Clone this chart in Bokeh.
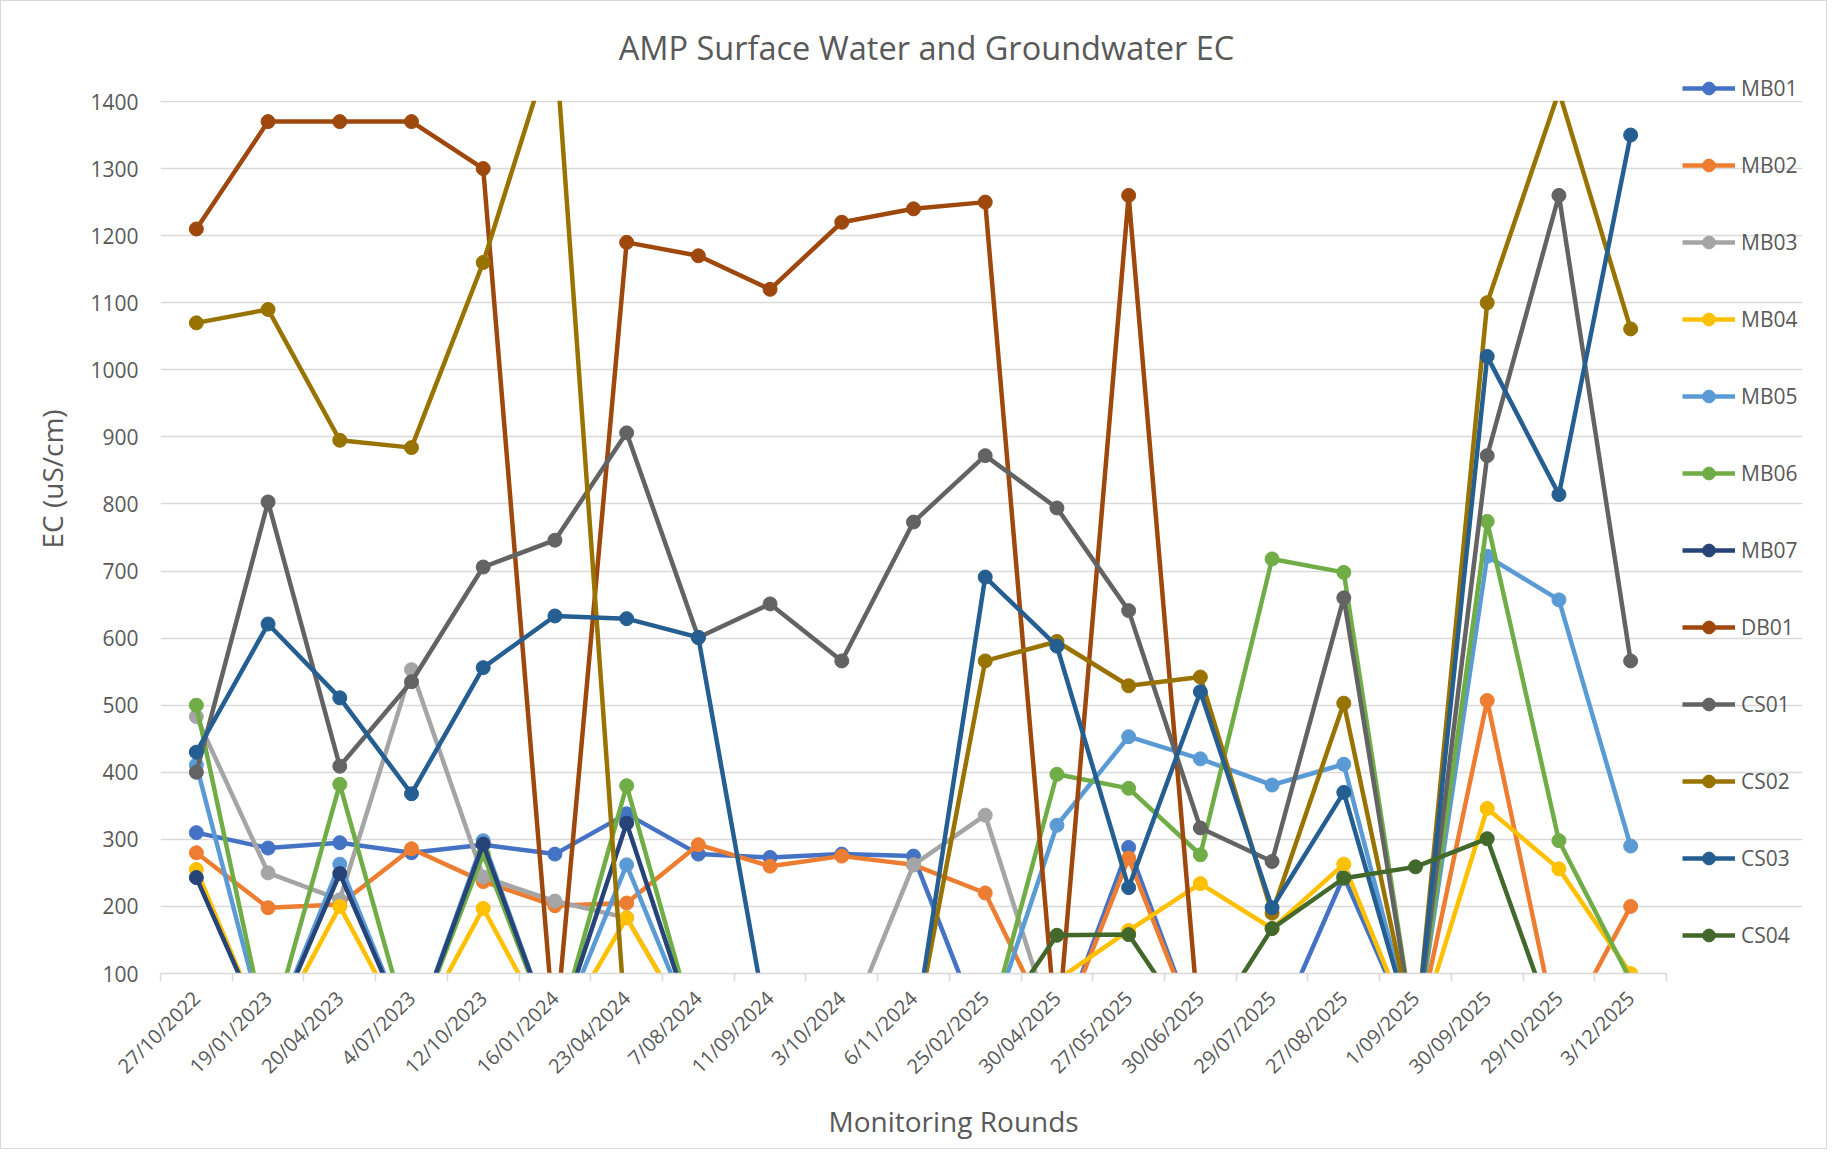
import numpy as np
from bokeh.plotting import figure
from bokeh.models import (Range1d, FixedTicker, Legend, LegendItem, Label, BoxAnnotation,
                          Title)
from bokeh.embed import file_html
from bokeh.resources import INLINE

# ---------------- data ----------------
dates = ["27/10/2022", "19/01/2023", "20/04/2023", "4/07/2023", "12/10/2023",
         "16/01/2024", "23/04/2024", "7/08/2024", "11/09/2024", "3/10/2024",
         "6/11/2024", "25/02/2025", "30/04/2025", "27/05/2025", "30/06/2025",
         "29/07/2025", "27/08/2025", "1/09/2025", "30/09/2025", "29/10/2025",
         "3/12/2025"]

MB01 = [310, 287, 295, 280, 292, 278, 338, 278, 273, 278, 275, 0, 0, 288, 0, 0, 245, 0, 0, 0, 0]
MB02 = [280, 198, 203, 286, 237, 201, 205, 292, 260, 275, 262, 220, 0, 272, 0, 0, 0, 0, 507, 0, 200]
MB03 = [483, 250, 210, 553, 244, 208, 183, 0, 0, 0, 262, 336, 0, 0, 0, 0, 0, 0, 0, 0, 0]
MB04 = [255, 0, 200, 0, 197, 0, 183, 0, 0, 0, 0, 0, 90, 164, 234, 167, 263, 0, 346, 256, 100]
MB05 = [411, 0, 263, 0, 298, 0, 262, 0, 0, 0, 0, 0, 321, 453, 420, 381, 412, 0, 722, 657, 290]
MB06 = [500, 0, 382, 0, 278, 0, 380, 0, 0, 0, 0, 0, 397, 376, 277, 718, 698, 0, 774, 298, 90]
MB07 = [243, 0, 249, 0, 293, 0, 324, 0, 0, 0, 0, 0, 0, 0, 0, 0, 0, 0, 0, 0, 0]
DB01 = [1210, 1370, 1370, 1370, 1300, 0, 1190, 1170, 1120, 1220, 1240, 1250, 0, 1260, 0, 0, 0, 0, 0, 0, 0]
CS01 = [400, 803, 409, 535, 706, 746, 906, 601, 651, 566, 773, 872, 794, 641, 317, 267, 660, 0, 872, 1260, 566]
CS02 = [1070, 1090, 895, 884, 1160, 1500, 0, 0, 0, 0, 0, 566, 595, 529, 542, 190, 503, 0, 1100, 1415, 1061]
CS03 = [430, 621, 511, 368, 556, 633, 629, 601, 0, 0, 0, 691, 588, 228, 520, 198, 370, 0, 1020, 814, 1350]
CS04 = [0, 0, 0, 0, 0, 0, 0, 0, 0, 0, 0, 0, 157, 158, 0, 167, 242, 259, 301, 0, 0]

series_names = ["MB01", "MB02", "MB03", "MB04", "MB05", "MB06", "MB07",
                "DB01", "CS01", "CS02", "CS03", "CS04"]
series_values = [MB01, MB02, MB03, MB04, MB05, MB06, MB07, DB01, CS01, CS02, CS03, CS04]
series_colors = ["#4472C4", "#ED7D31", "#A5A5A5", "#FFC000", "#5B9BD5", "#70AD47",
                 "#264478", "#9E480E", "#636363", "#997300", "#255E91", "#43682B"]

y_ticks = list(range(100, 1401, 100))

FONT = "Open Sans"
TXT = "#595959"
GRID = "#D9D9D9"

# ---------------- geometry (canvas pixels) ----------------
W, H = 1827, 1149
F_LEFT, F_RIGHT, F_TOP, F_BOTTOM = 159, 1801, 0, 972      # frame edges
PLOT_RIGHT, PLOT_TOP = 1665, 100                           # value area (x 20.5, y 1400)
n = len(dates)
px_per_x = (PLOT_RIGHT - F_LEFT) / n
px_per_y = (F_BOTTOM - PLOT_TOP) / (y_ticks[-1] - y_ticks[0])
x_end = -0.5 + (F_RIGHT - F_LEFT) / px_per_x
y_end = y_ticks[0] + (F_BOTTOM - F_TOP) / px_per_y

p = figure(width=W, height=H, output_backend="svg", toolbar_location=None,
           x_range=Range1d(-0.5, x_end), y_range=Range1d(y_ticks[0], y_end),
           min_border_left=F_LEFT, min_border_right=W - F_RIGHT,
           min_border_top=F_TOP, min_border_bottom=H - F_BOTTOM)
p.styles = {"border": "1px solid #D9D9D9"}
p.outline_line_color = None
p.background_fill_color = "white"
p.border_fill_color = "white"

# grid
p.xgrid.visible = False
p.ygrid.grid_line_color = GRID
p.ygrid.grid_line_width = 1.5
p.ygrid.ticker = FixedTicker(ticks=y_ticks)
p.ygrid.bounds = (-0.5, n - 0.5)

# y axis
p.yaxis.ticker = FixedTicker(ticks=y_ticks)
p.yaxis.axis_line_color = None
p.yaxis.major_tick_line_color = None
p.yaxis.minor_tick_line_color = None
p.yaxis.major_tick_in = 0
p.yaxis.major_tick_out = 0
p.yaxis.major_label_standoff = 22
p.yaxis.major_label_text_font = FONT
p.yaxis.major_label_text_font_size = "21px"
p.yaxis.major_label_text_color = TXT

# x axis
xs = list(range(n))
p.xaxis.ticker = FixedTicker(ticks=xs, minor_ticks=[i - 0.5 for i in range(n + 1)])
p.xaxis.bounds = (-0.5, n - 0.5)
p.xaxis.major_label_overrides = {i: d for i, d in enumerate(dates)}
p.xaxis.major_label_orientation = np.pi / 4
p.xaxis.major_tick_line_color = None
p.xaxis.major_tick_in = 0
p.xaxis.major_tick_out = 0
p.xaxis.minor_tick_line_color = GRID
p.xaxis.minor_tick_line_width = 1.5
p.xaxis.minor_tick_in = 0
p.xaxis.minor_tick_out = 8
p.xaxis.axis_line_color = GRID
p.xaxis.axis_line_width = 1.5
p.xaxis.major_label_standoff = 13
p.xaxis.major_label_text_font = FONT
p.xaxis.major_label_text_font_size = "20px"
p.xaxis.major_label_text_color = TXT

# axis titles (placed along their axes like the reference)
p.add_layout(Title(text="Monitoring Rounds", align="left", offset=668, standoff=16,
                   text_font=FONT, text_font_size="28px", text_font_style="normal",
                   text_color=TXT), "below")
p.add_layout(Title(text="EC (uS/cm)", align="left", offset=425, standoff=34,
                   text_font=FONT, text_font_size="28px", text_font_style="normal",
                   text_color=TXT), "left")

# series
items = []
for name, vals, col in zip(series_names, series_values, series_colors):
    lr = p.line(xs, vals, line_color=col, line_width=4.5, line_join="round")
    sr = p.scatter(xs, vals, size=14, fill_color=col, line_color=col)
    items.append(LegendItem(label=name, renderers=[lr, sr]))

# the value area ends at the top value: hide anything drawn above it
p.add_layout(BoxAnnotation(bottom=y_ticks[-1] + 1.2, fill_color="white", fill_alpha=1.0,
                           line_alpha=0))

legend = Legend(items=items, location=(1522, 22), orientation="vertical",
                glyph_width=53, glyph_height=32, label_height=32, spacing=45,
                label_standoff=6, padding=0, margin=0,
                border_line_color=None, background_fill_alpha=0,
                label_text_font=FONT, label_text_font_size="21px",
                label_text_color=TXT, label_text_baseline="middle")
p.add_layout(legend)

title = Label(x=766, y=926, x_units="screen", y_units="screen",
              text="AMP Surface Water and Groundwater EC", text_font=FONT,
              text_font_size="32.5px", text_color=TXT, text_align="center",
              text_baseline="middle")
p.add_layout(title)

open("out.html", "w").write(file_html(p, INLINE))
